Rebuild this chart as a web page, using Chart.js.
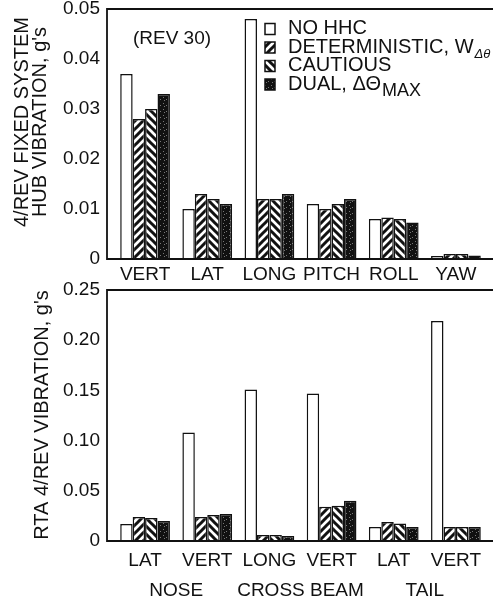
<!DOCTYPE html>
<html>
<head>
<meta charset="utf-8">
<script src="https://cdn.jsdelivr.net/npm/chart.js@4.4.1/dist/chart.umd.min.js"></script>
<style>
  body { margin: 0; background: #fff; width: 493px; height: 602px; overflow: hidden; position: relative; }
  .box { position: absolute; left: 0; width: 493px; }
  #top { top: 0; height: 290px; }
  #bottom { top: 276px; height: 326px; }
</style>
</head>
<body>
<div class="box" id="top"><canvas id="hub"></canvas></div>
<div class="box" id="bottom"><canvas id="rta"></canvas></div>
<script>
// Hub vibration (top panel)
const hubAxes = ['VERT', 'LAT', 'LONG', 'PITCH', 'ROLL', 'YAW'];
const hubNoHHC = [0.037, 0.010, 0.048, 0.011, 0.008, 0.0006];
const hubDeterministic = [0.028, 0.013, 0.012, 0.010, 0.0083, 0.001];
const hubCautious = [0.030, 0.012, 0.012, 0.011, 0.008, 0.001];
const hubDual = [0.033, 0.011, 0.013, 0.012, 0.0073, 0.0007];

// RTA vibration (bottom panel)
const rtaAxes = ['LAT', 'VERT', 'LONG', 'VERT', 'LAT', 'VERT'];
const rtaLocations = ['NOSE', 'CROSS BEAM', 'TAIL']; // two axes each
const rtaNoHHC = [0.017, 0.108, 0.151, 0.147, 0.014, 0.219];
const rtaDeterministic = [0.024, 0.024, 0.006, 0.034, 0.019, 0.014];
const rtaCautious = [0.023, 0.026, 0.006, 0.035, 0.0175, 0.014];
const rtaDual = [0.020, 0.027, 0.005, 0.040, 0.014, 0.014];

const seriesNames = ['NO HHC', 'DETERMINISTIC, W', 'CAUTIOUS', 'DUAL, \u0394\u0398'];
const seriesSubs = ['', '\u0394\u03b8', '', 'MAX'];

const ink = '#111';
const fontFamily = "'Liberation Sans', Arial, sans-serif";

// fill patterns
const hatch = (dir) => {
  const c = document.createElement('canvas');
  c.width = c.height = 8;
  const g = c.getContext('2d');
  g.fillStyle = '#fff';
  g.fillRect(0, 0, 8, 8);
  g.strokeStyle = ink;
  g.lineWidth = 3;
  g.beginPath();
  if (dir === '/') {
    g.moveTo(-4, 4); g.lineTo(4, -4);
    g.moveTo(0, 8); g.lineTo(8, 0);
    g.moveTo(4, 12); g.lineTo(12, 4);
  } else {
    g.moveTo(-4, 4); g.lineTo(4, 12);
    g.moveTo(0, 0); g.lineTo(8, 8);
    g.moveTo(4, -4); g.lineTo(12, 4);
  }
  g.stroke();
  return g.createPattern(c, 'repeat');
};

const speckle = () => {
  const c = document.createElement('canvas');
  c.width = c.height = 6;
  const g = c.getContext('2d');
  g.fillStyle = ink;
  g.fillRect(0, 0, 6, 6);
  g.fillStyle = '#777';
  g.fillRect(1, 1, 1, 1);
  g.fillRect(4, 3, 1, 1);
  g.fillRect(2, 4, 1, 1);
  return g.createPattern(c, 'repeat');
};

const fills = ['#fff', hatch('/'), hatch('\\'), speckle()];

const makeDatasets = (values) => values.map((data, i) => ({
  label: seriesNames[i],
  data,
  backgroundColor: fills[i],
  borderColor: ink,
  borderWidth: 1.5,
  categoryPercentage: 0.8,
  barPercentage: 1.0,
}));

const tickLabel = (v) => (v === 0 ? '0' : v.toFixed(2));

// frame: left axis sits a few px left of the first category, top and baseline run to the edge
const framePlugin = {
  id: 'frame',
  afterDatasetsDraw(chart) {
    const { ctx, chartArea } = chart;
    const x0 = chartArea.left - 7;
    ctx.save();
    ctx.strokeStyle = ink;
    ctx.lineWidth = 1.8;
    ctx.beginPath();
    ctx.moveTo(chart.width, chartArea.top);
    ctx.lineTo(x0, chartArea.top);
    ctx.lineTo(x0, chartArea.bottom);
    ctx.lineTo(chart.width, chartArea.bottom);
    ctx.stroke();
    ctx.restore();
  },
};

// rotated y titles and free text
const textPlugin = {
  id: 'notes',
  afterDraw(chart, args, opts) {
    const { ctx } = chart;
    ctx.save();
    ctx.fillStyle = ink;
    ctx.textAlign = 'center';
    ctx.textBaseline = 'middle';
    ctx.font = `20px ${fontFamily}`;
    (opts.titles || []).forEach((t) => {
      ctx.save();
      ctx.translate(t.x, t.y);
      ctx.rotate(-Math.PI / 2);
      ctx.fillText(t.text, 0, 0);
      ctx.restore();
    });
    ctx.font = `19px ${fontFamily}`;
    (opts.labels || []).forEach((t) => ctx.fillText(t.text, t.x, t.y));
    ctx.restore();
  },
};

const legendPlugin = {
  id: 'boxLegend',
  afterDraw(chart, args, opts) {
    if (!opts.show) return;
    const { ctx } = chart;
    ctx.save();
    ctx.textBaseline = 'middle';
    ctx.textAlign = 'left';
    chart.data.datasets.forEach((ds, i) => {
      const y = 28.5 + i * 18.5;
      ctx.fillStyle = ds.backgroundColor;
      ctx.fillRect(265, y - 5, 10, 11);
      ctx.strokeStyle = ink;
      ctx.lineWidth = 1.5;
      ctx.strokeRect(265, y - 5, 10, 11);
      ctx.fillStyle = ink;
      ctx.font = `20px ${fontFamily}`;
      ctx.fillText(ds.label, 288, y);
      if (seriesSubs[i]) {
        const w = ctx.measureText(ds.label).width;
        ctx.font = i === 1 ? `italic 13px ${fontFamily}` : `18px ${fontFamily}`;
        ctx.fillText(seriesSubs[i], 288 + w + 1, y + 7);
      }
    });
    ctx.restore();
  },
};

// NOSE / CROSS BEAM / TAIL under pairs of categories
const groupPlugin = {
  id: 'groups',
  afterDraw(chart, args, opts) {
    if (!opts.names) return;
    const { ctx, chartArea } = chart;
    const x = chart.scales.x;
    ctx.save();
    ctx.fillStyle = ink;
    ctx.font = `19px ${fontFamily}`;
    ctx.textAlign = 'center';
    ctx.textBaseline = 'middle';
    opts.names.forEach((name, i) => {
      const cx = (x.getPixelForValue(2 * i) + x.getPixelForValue(2 * i + 1)) / 2;
      ctx.fillText(name, cx, chartArea.bottom + 50);
    });
    ctx.restore();
  },
};

const buildChart = (id, labels, values, cfg) => new Chart(document.getElementById(id), {
  type: 'bar',
  data: { labels, datasets: makeDatasets(values) },
  options: {
    animation: false,
    responsive: true,
    maintainAspectRatio: false,
    layout: { padding: { top: cfg.top, right: 6, left: 0, bottom: 0 } },
    scales: {
      x: {
        grid: { display: false, drawTicks: false },
        border: { display: false },
        ticks: {
          color: ink,
          font: { family: fontFamily, size: 19 },
          padding: cfg.xPad,
          maxRotation: 0,
          autoSkip: false,
        },
        afterFit(s) { s.height = cfg.xHeight; s.paddingLeft = 0; s.paddingRight = 0; },
      },
      y: {
        min: 0,
        max: cfg.max,
        grid: { display: false, drawTicks: false },
        border: { display: false },
        ticks: {
          stepSize: cfg.step,
          color: ink,
          font: { family: fontFamily, size: 19 },
          padding: 14,
          callback: tickLabel,
        },
        afterFit(s) { s.width = 114; s.paddingTop = 0; s.paddingBottom = 0; },
      },
    },
    plugins: {
      legend: { display: false },
      tooltip: { enabled: false },
      notes: { titles: cfg.titles, labels: cfg.labels },
      boxLegend: { show: cfg.legend },
      groups: { names: cfg.groups },
    },
  },
  plugins: [framePlugin, textPlugin, legendPlugin, groupPlugin],
});

buildChart('hub', hubAxes, [hubNoHHC, hubDeterministic, hubCautious, hubDual], {
  top: 9, xHeight: 31, xPad: 4, max: 0.05, step: 0.01, legend: true,
  titles: [
    { text: '4/REV FIXED SYSTEM', x: 22, y: 122 },
    { text: "HUB VIBRATION, g's", x: 40, y: 122 },
  ],
  labels: [{ text: '(REV 30)', x: 172, y: 39 }],
});

buildChart('rta', rtaAxes, [rtaNoHHC, rtaDeterministic, rtaCautious, rtaDual], {
  top: 14, xHeight: 61, xPad: 8, max: 0.25, step: 0.05, legend: false,
  titles: [{ text: "RTA 4/REV VIBRATION, g's", x: 42, y: 139 }],
  groups: rtaLocations,
});
</script>
</body>
</html>
